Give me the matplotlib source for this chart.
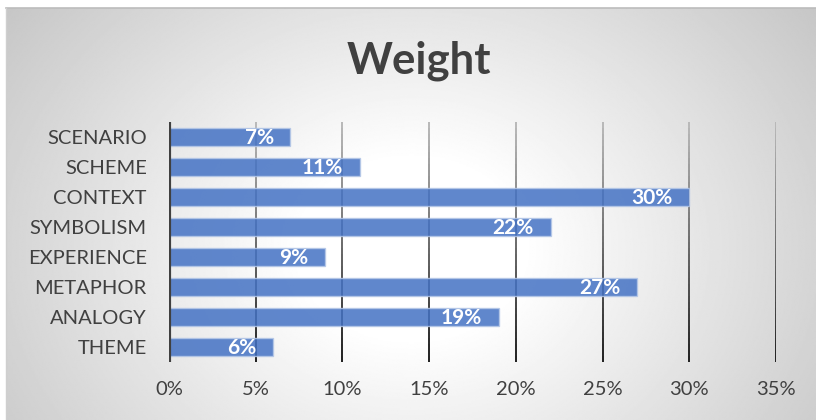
import numpy as np
import matplotlib
matplotlib.use("Agg")
import matplotlib.pyplot as plt
from matplotlib.collections import LineCollection

categories = ["SCENARIO", "SCHEME", "CONTEXT", "SYMBOLISM", "EXPERIENCE", "METAPHOR", "ANALOGY", "THEME"]
values = [7, 11, 30, 22, 9, 27, 19, 6]
xticks = [0, 5, 10, 15, 20, 25, 30, 35]
xtick_labels = ["0%", "5%", "10%", "15%", "20%", "25%", "30%", "35%"]
title = "Weight"

plt.rcParams['font.family'] = ['Lato', 'DejaVu Sans']

W, H = 816, 420
fig = plt.figure(figsize=(W / 100, H / 100), dpi=100)
fig.patch.set_facecolor("white")

# radial gradient background
bg = fig.add_axes([6 / W, 0, 1 - 6 / W, 1 - 8 / H])
bg.set_axis_off()
yy, xx = np.mgrid[0:300, 0:600]
cx, cy = 300, 175
r = np.sqrt(((xx - cx) / 330.0) ** 2 + ((yy - cy) / 260.0) ** 2)
g = np.clip(1.0 - 0.24 * np.clip(r - 0.25, 0, None) / 0.95, 0.76, 1.0)
bg.imshow(g, cmap="gray", vmin=0, vmax=1, aspect="auto", interpolation="bilinear",
          extent=[0, 1, 0, 1])
bg.set_xlim(0, 1)
bg.set_ylim(0, 1)
for s in bg.spines.values():
    s.set_visible(False)
bg.plot([0, 1], [1, 1], color="#bcbcbc", lw=1.2, transform=bg.transAxes, clip_on=False)
bg.plot([0, 0], [0, 1], color="#cfcfcf", lw=1.0, transform=bg.transAxes, clip_on=False)

ax = fig.add_axes([169 / W, (H - 362) / H, 607 / W, 240 / H])
ax.patch.set_alpha(0)
n = len(categories)
ypos = np.arange(n)[::-1]

# gradient gridlines
nseg = 40
for xt in xticks[1:]:
    ys = np.linspace(-0.5, n - 0.5, nseg + 1)
    segs = [[(xt, ys[i]), (xt, ys[i + 1])] for i in range(nseg)]
    t = np.linspace(0, 1, nseg)  # 0 bottom -> 1 top
    cols = [(0.12 + 0.6 * ti, 0.12 + 0.6 * ti, 0.12 + 0.6 * ti) for ti in t]
    lc = LineCollection(segs, colors=cols, linewidths=1.4, zorder=1)
    ax.add_collection(lc)

ax.barh(ypos, values, height=0.6, color="#4472C4", alpha=0.85,
        edgecolor="#b4c7e7", linewidth=1.0, zorder=2)
ax.axvline(0, color="#404040", lw=3, zorder=3)

for yp, v in zip(ypos, values):
    ax.annotate(f"{v}%", xy=(v, yp), xytext=(-12, -0.5), textcoords="offset points",
                ha="right", va="center", color="white", fontsize=15,
                fontweight="bold", zorder=4)

ax.set_xlim(0, 35)
ax.set_ylim(-0.5, n - 0.5)
ax.set_xticks(xticks)
ax.set_xticklabels(xtick_labels)
ax.set_yticks(ypos)
ax.set_yticklabels(categories)
ax.tick_params(axis="both", length=0, labelsize=14.5, labelcolor="#404040")
ax.tick_params(axis="x", pad=14)
ax.tick_params(axis="y", pad=16)
for s in ax.spines.values():
    s.set_visible(False)

fig.text(419 / W, 1 - 61 / H, title, ha="center", va="center", fontsize=31.5,
         fontweight="bold", color="#404040")

fig.savefig("out.png", dpi=100)
